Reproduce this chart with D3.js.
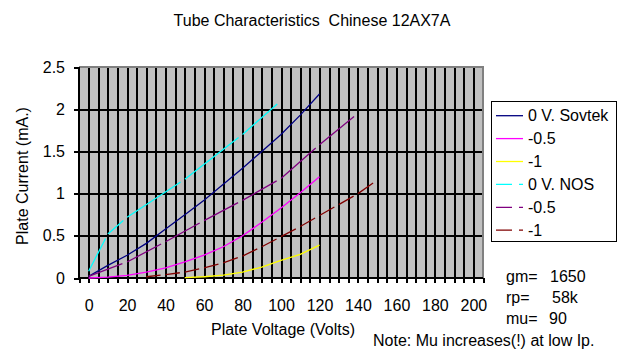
<!DOCTYPE html>
<html><head><meta charset="utf-8">
<script src="https://cdn.jsdelivr.net/npm/d3@7"></script>
<style>
body{margin:0;background:#fff}
text{font-family:"Liberation Sans",Arial,sans-serif;fill:#000}
</style></head>
<body><svg id="c" width="620" height="351"></svg>
<script>
// ---- data ----
const xTickLabels = [0,20,40,60,80,100,120,140,160,180,200];
const yTickLabels = [0,0.5,1,1.5,2,2.5];

const vSovtek0 = [0,10,20,30,40,50,60,70,80,90,100,110,120];
const iSovtek0 = [0.02,0.15,0.27,0.41,0.58,0.75,0.92,1.11,1.30,1.50,1.70,1.93,2.18];
const vSovtekM05 = [0,10,20,30,40,50,60,70,80,90,100,110,120];
const iSovtekM05 = [0.00,0.01,0.03,0.07,0.12,0.19,0.27,0.37,0.50,0.66,0.83,1.01,1.20];
const vSovtekM1 = [50,60,70,80,90,100,110,120];
const iSovtekM1 = [0.005,0.015,0.035,0.07,0.13,0.21,0.28,0.39];

const vNOS0 = [0,10,20,50,80,100];
const iNOS0 = [0.08,0.52,0.72,1.17,1.70,2.10];
const vNOSM05 = [0,20,40,60,80,100,120,140];
const iNOSM05 = [0.02,0.19,0.43,0.68,0.92,1.18,1.58,1.95];
const vNOSM1 = [30,40,50,60,70,80,90,100,110,120,130,140,150];
const iNOSM1 = [0.015,0.04,0.07,0.12,0.18,0.26,0.37,0.49,0.61,0.74,0.87,1.00,1.16];

const seriesNames = ["0 V. Sovtek","-0.5","-1","0 V. NOS","-0.5","-1"];
const seriesColors = ["#000080","#FF00FF","#FFFF00","#00FFFF","#800080","#800000"];

const series = [
  {v:vSovtek0,i:iSovtek0,dash:false},
  {v:vSovtekM05,i:iSovtekM05,dash:false},
  {v:vSovtekM1,i:iSovtekM1,dash:false},
  {v:vNOS0,i:iNOS0,dash:true},
  {v:vNOSM05,i:iNOSM05,dash:true},
  {v:vNOSM1,i:iNOSM1,dash:true}
];

// ---- layout ----
const L=79,R=483,T=67,B=278;
const svg=d3.select("#c");
const x=d3.scaleLinear().domain([-5,205]).range([L,R]);
const y=d3.scaleLinear().domain([0,2.5]).range([B,T]);
const minorX=d3.range(-5,206,5);

svg.append("rect").attr("x",L).attr("y",T).attr("width",R-L).attr("height",B-T).attr("fill","#C0C0C0");

// vertical grid
const gx=svg.append("g").attr("transform",`translate(0,${B})`)
  .call(d3.axisBottom(x).tickValues(minorX.filter(d=>d>-5&&d<205)).tickSize(-(B-T)).tickFormat(""));
gx.select(".domain").remove();
gx.selectAll("line").attr("stroke","#000").attr("stroke-width",2).attr("shape-rendering","crispEdges");
// horizontal grid
const gy=svg.append("g").attr("transform",`translate(${L},0)`)
  .call(d3.axisLeft(y).tickValues([0.5,1,1.5,2]).tickSize(-(R-L)).tickFormat(""));
gy.select(".domain").remove();
gy.selectAll("line").attr("stroke","#000").attr("stroke-width",2).attr("shape-rendering","crispEdges");

// border top/right
svg.append("path").attr("d",`M${L},${T}H${R}V${B}`).attr("fill","none").attr("stroke","#808080").attr("stroke-width",2).attr("shape-rendering","crispEdges");

// x axis
const ax=svg.append("g").attr("transform",`translate(0,${B})`)
  .call(d3.axisBottom(x).tickValues(minorX).tickSize(5).tickFormat(""));
ax.selectAll("path,line").attr("stroke","#000").attr("stroke-width",2).attr("shape-rendering","crispEdges");
ax.select(".domain").attr("d",`M${L},0H${R}`);
const axl=svg.append("g").attr("transform",`translate(0,${B})`)
  .call(d3.axisBottom(x).tickValues(xTickLabels).tickSize(0).tickPadding(22));
axl.select(".domain").remove();
axl.selectAll("text").attr("font-size",16).attr("font-family","Liberation Sans, Arial, sans-serif").attr("fill","#000");

// y axis
const ay=svg.append("g").attr("transform",`translate(${L},0)`)
  .call(d3.axisLeft(y).tickValues(yTickLabels).tickSize(5).tickPadding(9).tickFormat(d=>String(d)));
ay.selectAll("path,line").attr("stroke","#000").attr("stroke-width",2).attr("shape-rendering","crispEdges");
ay.select(".domain").attr("d",`M0,${T}V${B}`);
ay.selectAll("text").attr("font-size",16).attr("font-family","Liberation Sans, Arial, sans-serif").attr("fill","#000");

// series
const line=d3.line().x(d=>x(d[0])).y(d=>y(d[1]));
series.forEach((s,k)=>{
  const pts=s.v.map((v,j)=>[v,s.i[j]]);
  if(!s.dash){
    svg.append("path").attr("d",line(pts)).attr("fill","none").attr("stroke",seriesColors[k]).attr("stroke-width",1.3);
  } else {
    for(let j=0;j<pts.length-1;j++){
      const x1=x(pts[j][0]),y1=y(pts[j][1]),x2=x(pts[j+1][0]),y2=y(pts[j+1][1]);
      const len=Math.hypot(x2-x1,y2-y1);
      svg.append("line").attr("x1",x1).attr("y1",y1).attr("x2",x2).attr("y2",y2)
        .attr("stroke",seriesColors[k]).attr("stroke-width",1.3)
        .attr("stroke-dasharray",`${Math.max(len-5,1)},5`);
    }
  }
});

// legend
svg.append("rect").attr("x",491.5).attr("y",101.5).attr("width",125).attr("height",140).attr("fill","#fff").attr("stroke","#000").attr("stroke-width",1);
seriesNames.forEach((n,k)=>{
  const cy=115.7+k*22.9;
  svg.append("line").attr("x1",496).attr("x2",523).attr("y1",cy).attr("y2",cy)
    .attr("stroke",seriesColors[k]).attr("stroke-width",1.3)
    .attr("stroke-dasharray",series[k].dash?"16,7,5,100":null);
  svg.append("text").attr("x",528).attr("y",cy).attr("dy","0.36em").attr("font-size",16).text(n);
});

// titles
svg.append("text").attr("x",312).attr("y",26).attr("text-anchor","middle").attr("font-size",16).text("Tube Characteristics  Chinese 12AX7A".replace("  ","\u00a0 "));
svg.append("text").attr("x",283).attr("y",335).attr("text-anchor","middle").attr("font-size",16).text("Plate Voltage (Volts)");
svg.append("text").attr("transform","translate(28,176) rotate(-90)").attr("text-anchor","middle").attr("font-size",16).text("Plate Current (mA.)");

// annotations
const noteLabels=["gm=","rp=","mu="];
const noteValues=["1650","58k","90"];
const noteValX=[550,552,549];
noteLabels.forEach((t,k)=>{
  const by=282+k*21;
  svg.append("text").attr("x",506).attr("y",by).attr("font-size",16).text(t);
  svg.append("text").attr("x",noteValX[k]).attr("y",by).attr("font-size",16).text(noteValues[k]);
});
svg.append("text").attr("x",373).attr("y",346).attr("font-size",16).text("Note: Mu increases(!) at low Ip.");
</script></body></html>
